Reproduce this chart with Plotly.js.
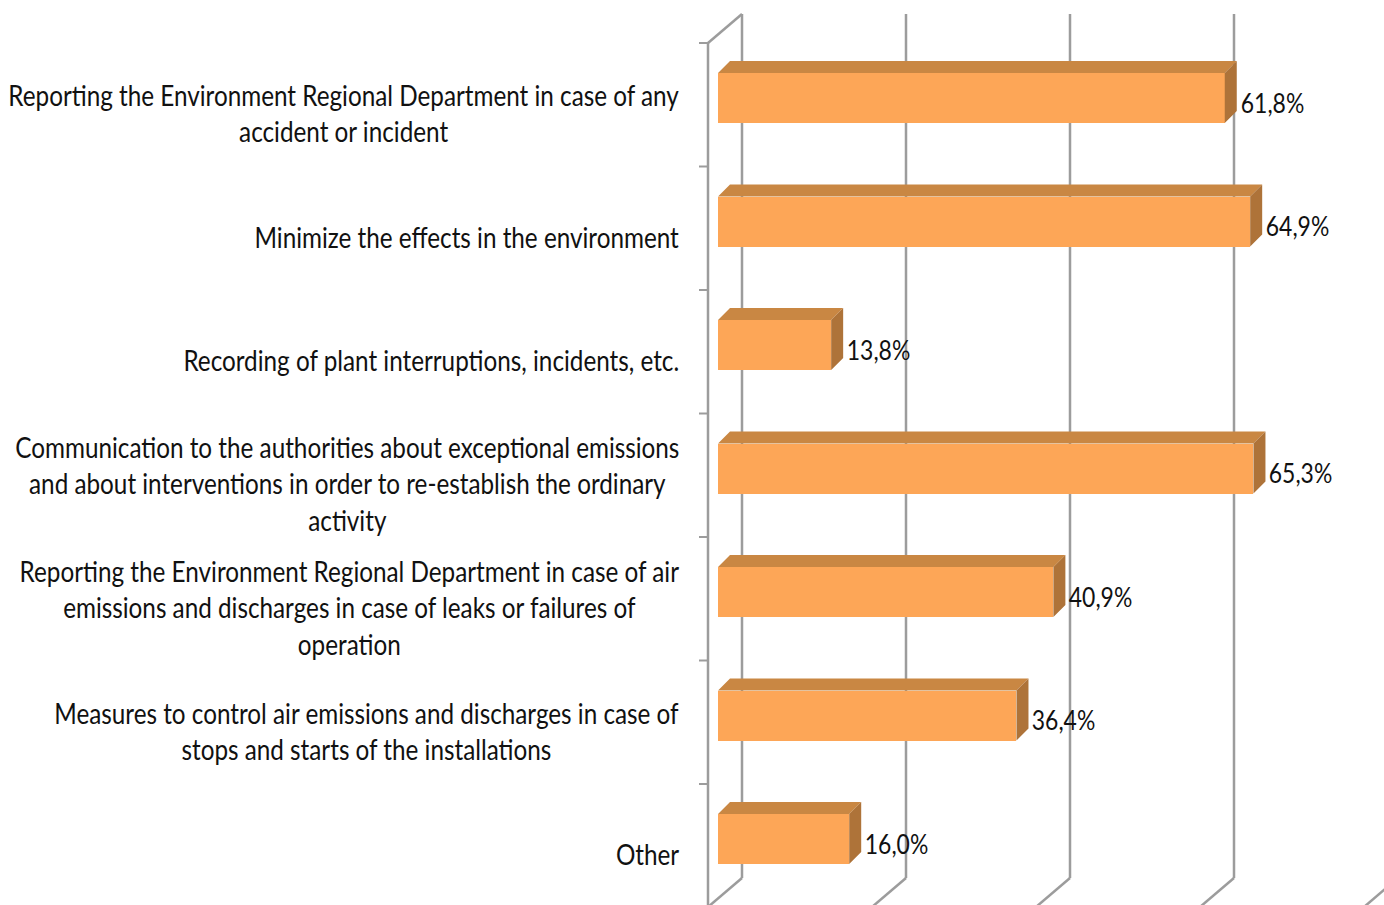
<!DOCTYPE html>
<html>
<head>
<meta charset="utf-8">
<script src="https://cdn.plot.ly/plotly-3.0.1.min.js"></script>
<style>
  html, body { margin: 0; padding: 0; background: #ffffff; }
  #chart { width: 1384px; height: 905px; }
</style>
</head>
<body>
<div id="chart"></div>
<script>
// ---- data ----
const categories = [
  "Reporting the Environment Regional Department in case of any<br>accident or incident",
  "Minimize the effects in the environment",
  "Recording of plant interruptions, incidents, etc.",
  "Communication to the authorities about exceptional emissions<br>and about interventions in order to re-establish the ordinary<br>activity",
  "Reporting the Environment Regional Department in case of air<br>emissions and discharges in case of leaks or failures of<br>operation",
  "Measures to control air emissions and discharges in case of<br>stops and starts of the installations",
  "Other"
];
const values = [61.8, 64.9, 13.8, 65.3, 40.9, 36.4, 16.0];
const gridValues = [0, 20, 40, 60, 80];

// ---- geometry / style (pixel scale of the axes) ----
const W = 1384, H = 905;
const PXX = 8.2;      // pixels per percent
const PXY = 123.5;    // pixels per category
const X0 = 718;       // pixel of 0% on bar front faces
const Y0 = 98;        // pixel of first category centre
const BAR_W = 50 / PXY;
const DEPTH_X = 12 / PXX, DEPTH_Y = -12 / PXY;   // bar 3D depth
const WALL_X = 24 / PXX;                        // back wall offset from bar fronts
const FLOOR_X = -34 / PXX, FLOOR_Y = 29 / PXY;  // wall -> front edge offset
const yTopWall = (14 - Y0) / PXY, yBotWall = (878 - Y0) / PXY;
const frontAxisX = (708 - X0) / PXX;
const frontAxisTop = (43 - Y0) / PXY;
const tickLen = 9 / PXX;

const FONT = "Lato, 'Liberation Sans', sans-serif";
const FRONT = '#FDA657', TOP = '#C98743', SIDE = '#AE7339';
const GRID = '#9c9c9c';
const LABEL_SQUEEZE = 0.867, VALUE_SQUEEZE = 0.85;   // narrow text like the reference

const idx = categories.map((_, i) => i);

// bar top and side faces built from the values
const topX = [], topY = [], sideX = [], sideY = [];
values.forEach((v, i) => {
  const yt = i - BAR_W / 2, yb = i + BAR_W / 2;
  topX.push(0, v, v + DEPTH_X, DEPTH_X, 0, null);
  topY.push(yt, yt, yt + DEPTH_Y, yt + DEPTH_Y, yt, null);
  sideX.push(v, v + DEPTH_X, v + DEPTH_X, v, v, null);
  sideY.push(yt, yt + DEPTH_Y, yb + DEPTH_Y, yb, yt, null);
});

const traces = [
  {
    type: 'bar', orientation: 'h', x: values, y: idx, width: BAR_W,
    marker: { color: FRONT, line: { width: 0 } }, hoverinfo: 'skip'
  },
  {
    type: 'scatter', mode: 'lines', x: topX, y: topY, fill: 'toself',
    fillcolor: TOP, line: { width: 0, color: TOP }, hoverinfo: 'skip'
  },
  {
    type: 'scatter', mode: 'lines', x: sideX, y: sideY, fill: 'toself',
    fillcolor: SIDE, line: { width: 0, color: SIDE }, hoverinfo: 'skip'
  }
];

// gridlines on the back wall + floor edges, front axis and ticks
const shapes = [];
gridValues.forEach(g => {
  const xb = g + WALL_X;
  shapes.push({ type: 'line', xref: 'x', yref: 'y', layer: 'below',
    x0: xb, x1: xb, y0: yTopWall, y1: yBotWall, line: { color: GRID, width: 2.5 } });
  shapes.push({ type: 'line', xref: 'x', yref: 'y', layer: 'below',
    x0: xb, x1: xb + 2 * FLOOR_X, y0: yBotWall, y1: yBotWall + 2 * FLOOR_Y, line: { color: GRID, width: 2.5 } });
});
shapes.push({ type: 'line', xref: 'x', yref: 'y', layer: 'below',
  x0: frontAxisX, x1: frontAxisX, y0: frontAxisTop, y1: categories.length + 1, line: { color: GRID, width: 2.5 } });
shapes.push({ type: 'line', xref: 'x', yref: 'y', layer: 'below',
  x0: frontAxisX, x1: WALL_X, y0: frontAxisTop, y1: yTopWall, line: { color: GRID, width: 2.5 } });
for (let k = 0; k <= categories.length; k++) {
  const yk = frontAxisTop + k;
  shapes.push({ type: 'line', xref: 'x', yref: 'y', layer: 'below',
    x0: frontAxisX - tickLen, x1: frontAxisX, y0: yk, y1: yk, line: { color: GRID, width: 2 } });
}

const annotations = [];
categories.forEach((c, i) => {
  annotations.push({
    text: c, xref: 'paper', yref: 'y', x: 681 / W, y: i, yshift: -15,
    xanchor: 'right', yanchor: 'middle', align: 'center', showarrow: false,
    font: { family: FONT, size: 28, color: '#111111' }
  });
});
values.forEach((v, i) => {
  annotations.push({
    text: v.toFixed(1).replace('.', ',') + '%', xref: 'x', yref: 'y', x: v, y: i,
    xshift: 14, yshift: -4, xanchor: 'left', yanchor: 'middle', showarrow: false,
    font: { family: FONT, size: 27, color: '#111111' }
  });
});

const layout = {
  width: W, height: H,
  margin: { l: 0, r: 0, t: 0, b: 0, pad: 0 },
  paper_bgcolor: '#ffffff', plot_bgcolor: '#ffffff',
  showlegend: false,
  xaxis: { range: [(0 - X0) / PXX, (W - X0) / PXX], visible: false, fixedrange: true },
  yaxis: { range: [(H - Y0) / PXY, (0 - Y0) / PXY], visible: false, fixedrange: true },
  bargap: 0,
  shapes: shapes,
  annotations: annotations
};

Plotly.newPlot('chart', traces, layout, { displayModeBar: false, staticPlot: true }).then(gd => {
  // squeeze the text horizontally around its anchor edge
  const groups = gd.querySelectorAll('.annotation');
  groups.forEach((g, k) => {
    const bb = g.getBBox();
    const isLabel = k < categories.length;
    const s = isLabel ? LABEL_SQUEEZE : VALUE_SQUEEZE;
    const ax = isLabel ? bb.x + bb.width : bb.x;
    g.setAttribute('transform', `translate(${ax},0) scale(${s},1) translate(${-ax},0)`);
  });
});
</script>
</body>
</html>
